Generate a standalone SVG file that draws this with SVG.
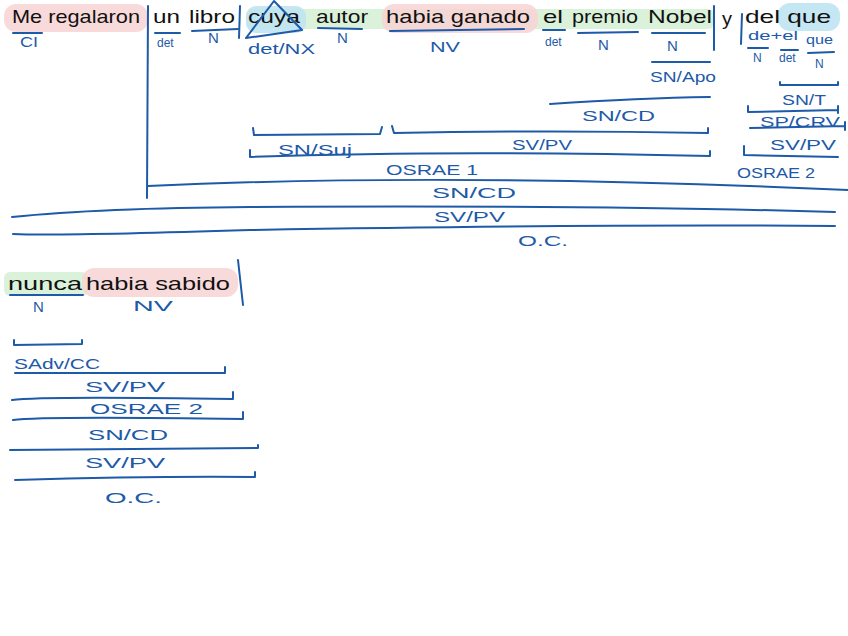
<svg xmlns="http://www.w3.org/2000/svg" width="848" height="636" viewBox="0 0 848 636">
<style>
.w{font-family:"Liberation Sans",Arial,sans-serif;font-size:19px;fill:#111}
.l{font-family:"Liberation Sans",Arial,sans-serif;font-size:15px;fill:#1d5aa8}
.s{font-family:"Liberation Sans",Arial,sans-serif;font-size:12px;fill:#1d5aa8}
.k{stroke:#1d5aa8;stroke-width:2;fill:none;stroke-linecap:round;stroke-linejoin:round}
.pink{fill:#f8d3d3;opacity:.85}
.green{fill:#d3f0d3;opacity:.85}
.blue{fill:#bfe3f2;opacity:.9}
</style>
<rect width="848" height="636" fill="#fff"/>
<g id="highlights">
<rect class="pink" x="4" y="4" width="144" height="28" rx="12"/>
<rect class="green" x="246" y="9" width="468" height="20" rx="6"/>
<rect class="pink" x="382" y="4" width="156" height="29" rx="12"/>
<rect class="blue" x="246" y="6" width="60" height="27" rx="10"/>
<rect class="blue" x="778" y="3" width="62" height="28" rx="12"/>
<rect class="green" x="4" y="272" width="84" height="24" rx="6"/>
<rect class="pink" x="82" y="268" width="156" height="29" rx="12"/>
</g>
<g id="sentence1">
<text class="w" x="12" y="23" textLength="128" lengthAdjust="spacingAndGlyphs">Me regalaron</text>
<text class="w" x="153" y="23" textLength="27" lengthAdjust="spacingAndGlyphs">un</text>
<text class="w" x="189" y="23" textLength="46" lengthAdjust="spacingAndGlyphs">libro</text>
<text class="w" x="248" y="23" textLength="52" lengthAdjust="spacingAndGlyphs">cuya</text>
<text class="w" x="316" y="23" textLength="52" lengthAdjust="spacingAndGlyphs">autor</text>
<text class="w" x="386" y="23" textLength="144" lengthAdjust="spacingAndGlyphs">habia ganado</text>
<text class="w" x="543" y="23" textLength="20" lengthAdjust="spacingAndGlyphs">el</text>
<text class="w" x="572" y="23" textLength="66" lengthAdjust="spacingAndGlyphs">premio</text>
<text class="w" x="648" y="23" textLength="64" lengthAdjust="spacingAndGlyphs">Nobel</text>
<text class="w" x="722" y="25" font-size="15" textLength="10" lengthAdjust="spacingAndGlyphs">y</text>
<text class="w" x="745" y="23" textLength="86" lengthAdjust="spacingAndGlyphs">del que</text>
</g>
<g id="sentence2">
<text class="w" x="8" y="290" textLength="74" lengthAdjust="spacingAndGlyphs">nunca</text>
<text class="w" x="86" y="290" textLength="144" lengthAdjust="spacingAndGlyphs">habia sabido</text>
</g>
<g id="connectors">
<path class="k" d="M148 6 L147 198"/>
<path class="k" d="M240 6 L239 38"/>
<path class="k" d="M246 38 L274 1 L302 30 Q275 34 246 38"/>
<path class="k" d="M714 6 L714 50"/>
<path class="k" d="M742 14 L741 44"/>
<path class="k" d="M13 33 L42 33"/>
<path class="k" d="M155 33 L180 33"/>
<path class="k" d="M192 31 L238 29"/>
<path class="k" d="M318 28 L362 29"/>
<path class="k" d="M390 31 L524 29"/>
<path class="k" d="M543 30 L565 30"/>
<path class="k" d="M578 33 L638 32"/>
<path class="k" d="M652 33 L705 33"/>
<path class="k" d="M652 62 L710 62"/>
<path class="k" d="M748 48 L768 48"/>
<path class="k" d="M781 50 L798 50"/>
<path class="k" d="M808 53 L834 52"/>
<path class="k" d="M780 82 L780 85 L838 85 L838 82"/>
<path class="k" d="M748 106 L748 112 L838 110 M838 106 L838 113"/>
<path class="k" d="M750 128 L845 126 M845 122 L845 130"/>
<path class="k" d="M744 146 L744 155 L838 157"/>
<path class="k" d="M550 104 Q640 98 710 97"/>
<path class="k" d="M253 128 L254 135 L380 134 L382 127"/>
<path class="k" d="M392 126 L394 133 Q550 130 708 133 L708 128"/>
<path class="k" d="M250 150 L250 157 Q450 150 710 156 L710 151"/>
<path class="k" d="M148 186 Q450 172 848 190"/>
<path class="k" d="M12 217 Q100 208 250 207 Q600 205 835 212"/>
<path class="k" d="M13 234 Q60 236 250 230 Q600 224 835 226"/>
<path class="k" d="M238 260 L243 305"/>
<path class="k" d="M10 295 L83 295"/>
<path class="k" d="M14 340 L14 345 L82 344 L82 340"/>
<path class="k" d="M15 373 L225 373 L225 367"/>
<path class="k" d="M12 400 Q40 396 233 399 L233 392"/>
<path class="k" d="M13 420 Q40 416 243 419 L243 412"/>
<path class="k" d="M10 450 L258 448 L258 445"/>
<path class="k" d="M15 480 Q150 476 255 477 L255 472"/>
</g>
<g id="labels">
<text class="l" x="20" y="47" textLength="18" lengthAdjust="spacingAndGlyphs">CI</text>
<text class="s" x="157" y="47">det</text>
<text class="l" x="208" y="43">N</text>
<text class="l" x="248" y="54" textLength="67" lengthAdjust="spacingAndGlyphs">det/NX</text>
<text class="l" x="337" y="43">N</text>
<text class="l" x="430" y="52" textLength="30" lengthAdjust="spacingAndGlyphs">NV</text>
<text class="s" x="545" y="46">det</text>
<text class="l" x="598" y="50">N</text>
<text class="l" x="667" y="51">N</text>
<text class="l" x="650" y="82" textLength="66" lengthAdjust="spacingAndGlyphs">SN/Apo</text>
<text class="s" x="748" y="40" textLength="50" lengthAdjust="spacingAndGlyphs">de+el</text>
<text class="s" x="806" y="44" textLength="27" lengthAdjust="spacingAndGlyphs">que</text>
<text class="s" x="753" y="62">N</text>
<text class="s" x="779" y="62">det</text>
<text class="s" x="815" y="68">N</text>
<text class="l" x="782" y="105" textLength="44" lengthAdjust="spacingAndGlyphs">SN/T</text>
<text class="l" x="760" y="127" textLength="80" lengthAdjust="spacingAndGlyphs">SP/CRV</text>
<text class="l" x="770" y="150" textLength="66" lengthAdjust="spacingAndGlyphs">SV/PV</text>
<text class="l" x="737" y="178" textLength="78" lengthAdjust="spacingAndGlyphs">OSRAE 2</text>
<text class="l" x="582" y="121" textLength="73" lengthAdjust="spacingAndGlyphs">SN/CD</text>
<text class="l" x="278" y="155" textLength="74" lengthAdjust="spacingAndGlyphs">SN/Suj</text>
<text class="l" x="512" y="150" textLength="60" lengthAdjust="spacingAndGlyphs">SV/PV</text>
<text class="l" x="386" y="175" textLength="92" lengthAdjust="spacingAndGlyphs">OSRAE 1</text>
<text class="l" x="432" y="198" textLength="84" lengthAdjust="spacingAndGlyphs">SN/CD</text>
<text class="l" x="434" y="222" textLength="71" lengthAdjust="spacingAndGlyphs">SV/PV</text>
<text class="l" x="518" y="246" textLength="50" lengthAdjust="spacingAndGlyphs">O.C.</text>
<text class="l" x="33" y="312">N</text>
<text class="l" x="133" y="311" textLength="40" lengthAdjust="spacingAndGlyphs">NV</text>
<text class="l" x="14" y="369" textLength="86" lengthAdjust="spacingAndGlyphs">SAdv/CC</text>
<text class="l" x="85" y="392" textLength="80" lengthAdjust="spacingAndGlyphs">SV/PV</text>
<text class="l" x="90" y="414" textLength="113" lengthAdjust="spacingAndGlyphs">OSRAE 2</text>
<text class="l" x="88" y="440" textLength="80" lengthAdjust="spacingAndGlyphs">SN/CD</text>
<text class="l" x="85" y="468" textLength="80" lengthAdjust="spacingAndGlyphs">SV/PV</text>
<text class="l" x="105" y="503" textLength="57" lengthAdjust="spacingAndGlyphs">O.C.</text>
</g>
</svg>
